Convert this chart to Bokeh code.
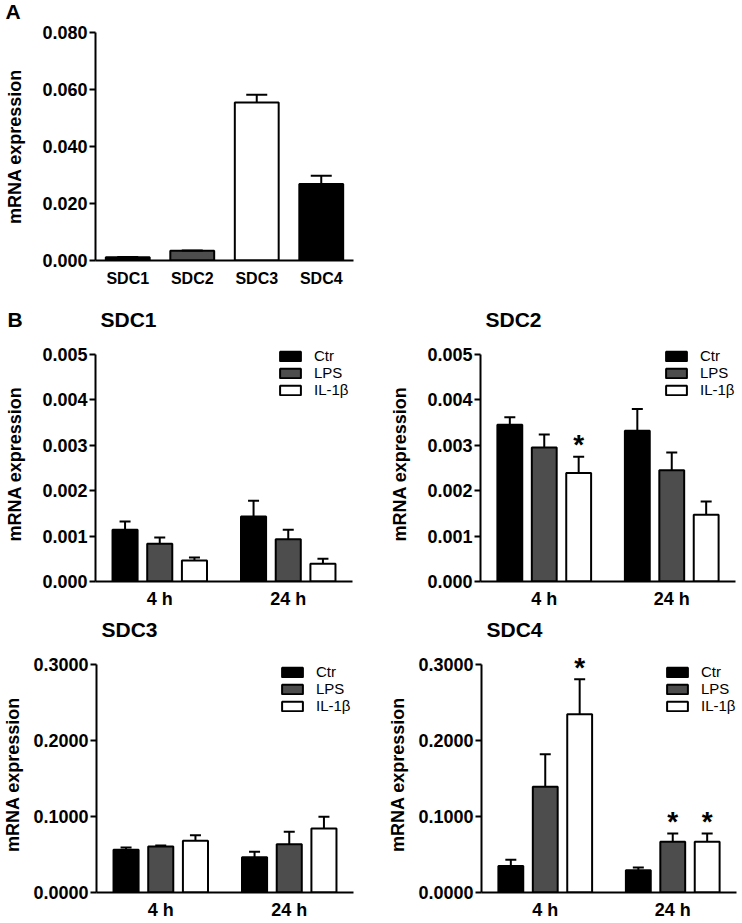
from bokeh.plotting import figure
from bokeh.layouts import column, row
from bokeh.models import (FactorRange, Range1d, FixedTicker, NumeralTickFormatter,
                          Whisker, TeeHead, Label, Legend, LegendItem, ColumnDataSource)
from bokeh.transform import dodge
from bokeh.embed import file_html
from bokeh.resources import INLINE
from bokeh.core.properties import value

FONT = "Liberation Sans"

# ---------------- Panel A data ----------------
genes = ["SDC1", "SDC2", "SDC3", "SDC4"]
gene_mean = [0.0011, 0.0034, 0.0554, 0.0268]
gene_sem = [0.0001, 0.0001, 0.0028, 0.0029]
gene_colors = ["#000000", "#4d4d4d", "#ffffff", "#000000"]
a_ticks = [0.0, 0.02, 0.04, 0.06, 0.08]

# ---------------- Panel B data ----------------
times = ["4 h", "24 h"]
treatments = ["Ctr", "LPS", "IL-1β"]
treat_colors = ["#000000", "#4d4d4d", "#ffffff"]

sdc1_ctr = [0.00114, 0.00143]
sdc1_ctr_sem = [0.00018, 0.00035]
sdc1_lps = [0.00083, 0.00093]
sdc1_lps_sem = [0.00014, 0.00021]
sdc1_il = [0.00046, 0.00039]
sdc1_il_sem = [0.00007, 0.00011]
sdc1_sig = [[0, 0], [0, 0], [0, 0]]

sdc2_ctr = [0.00345, 0.00332]
sdc2_ctr_sem = [0.00017, 0.00048]
sdc2_lps = [0.00295, 0.00245]
sdc2_lps_sem = [0.00029, 0.00039]
sdc2_il = [0.00239, 0.00147]
sdc2_il_sem = [0.00036, 0.00029]
sdc2_sig = [[0, 0], [0, 0], [1, 0]]

sdc3_ctr = [0.0561, 0.0465]
sdc3_ctr_sem = [0.0031, 0.0070]
sdc3_lps = [0.0605, 0.0636]
sdc3_lps_sem = [0.0013, 0.0164]
sdc3_il = [0.0680, 0.0842]
sdc3_il_sem = [0.0074, 0.0154]
sdc3_sig = [[0, 0], [0, 0], [0, 0]]

sdc4_ctr = [0.0350, 0.0294]
sdc4_ctr_sem = [0.0080, 0.0036]
sdc4_lps = [0.1390, 0.0667]
sdc4_lps_sem = [0.0430, 0.0109]
sdc4_il = [0.2346, 0.0667]
sdc4_il_sem = [0.0461, 0.0109]
sdc4_sig = [[0, 0], [0, 1], [1, 1]]

small_ticks = [0.0, 0.001, 0.002, 0.003, 0.004, 0.005]
big_ticks = [0.0, 0.1, 0.2, 0.3]

offsets = [-0.27, 0.0, 0.27]


def style_axes(p, ticks, fmt, xfont, xstandoff, label_standoff, ymax):
    p.outline_line_color = None
    p.xgrid.grid_line_color = None
    p.ygrid.grid_line_color = None
    p.background_fill_color = "white"
    p.border_fill_color = "white"
    for ax in (p.xaxis[0], p.yaxis[0]):
        ax.axis_line_width = 2
        ax.axis_line_color = "black"
        ax.major_label_text_font = FONT
        ax.major_label_text_font_style = "bold"
        ax.major_label_text_color = "black"
        ax.minor_tick_line_color = None
    p.xaxis.major_label_text_font_size = xfont
    p.yaxis.major_label_text_font_size = "18px"
    p.xaxis.major_tick_line_color = None
    p.xaxis.major_label_standoff = xstandoff
    p.yaxis.ticker = FixedTicker(ticks=ticks)
    p.yaxis.formatter = NumeralTickFormatter(format=fmt)
    p.yaxis.bounds = (0, ymax)
    p.yaxis.major_tick_out = 6
    p.yaxis.major_tick_in = 0
    p.yaxis.major_tick_line_width = 2
    p.yaxis.major_tick_line_color = "black"
    p.yaxis.major_label_standoff = 2
    p.yaxis.axis_label = "mRNA expression"
    p.yaxis.axis_label_text_font = FONT
    p.yaxis.axis_label_text_font_style = "bold"
    p.yaxis.axis_label_text_font_size = "18px"
    p.yaxis.axis_label_text_color = "black"
    p.yaxis.axis_label_standoff = label_standoff


def head_label(text, x, y):
    return Label(x=x, y=y, x_units="screen", y_units="screen", text=text,
                 text_font=FONT, text_font_style="bold", text_font_size="21px",
                 text_baseline="alphabetic", text_color="black")


# ---------------- Panel A ----------------
pA = figure(x_range=FactorRange(*genes), y_range=Range1d(0, 0.08),
            frame_width=258, frame_height=228,
            min_border_left=95, min_border_right=17,
            min_border_top=32, min_border_bottom=32,
            output_backend="svg", toolbar_location=None)
srcA = ColumnDataSource(dict(gene=genes, mean=gene_mean,
                             upper=[m + s for m, s in zip(gene_mean, gene_sem)],
                             color=gene_colors))
pA.vbar(x="gene", top="mean", width=0.68, source=srcA, fill_color="color",
        line_color="black", line_width=2)
pA.add_layout(Whisker(source=srcA, base="gene", lower="mean", upper="upper",
                      dimension="height", line_width=2, line_color="black",
                      upper_head=TeeHead(size=21, line_width=2, line_color="black"),
                      lower_head=None, level="glyph"))
style_axes(pA, a_ticks, "0.000", "16px", 3, 14, 0.08)
pA.add_layout(head_label("A", -90, 21), "above")


def panel_b(title, letter, means, sems, sig, ymax, ticks, fmt, label_standoff,
            border_left, border_right, frame_w, axis_h, headroom, border_top,
            border_bottom, legend_xy):
    frame_h = axis_h + headroom
    y_end = ymax * frame_h / axis_h
    p = figure(x_range=FactorRange(*times), y_range=Range1d(0, y_end),
               frame_width=frame_w, frame_height=frame_h,
               min_border_left=border_left, min_border_right=border_right,
               min_border_top=border_top, min_border_bottom=border_bottom,
               output_backend="svg", toolbar_location=None)
    items = []
    for i, t in enumerate(treatments):
        m = means[i]
        s = sems[i]
        up = [a + b for a, b in zip(m, s)]
        src = ColumnDataSource(dict(time=times, mean=m, upper=up))
        xd = dodge("time", offsets[i], range=p.x_range)
        r = p.vbar(x=xd, top="mean", width=0.195, source=src,
                   fill_color=treat_colors[i], line_color="black", line_width=2)
        p.add_layout(Whisker(source=src, base=dodge("time", offsets[i], range=p.x_range),
                             lower="mean", upper="upper", dimension="height",
                             line_width=2, line_color="black",
                             upper_head=TeeHead(size=11, line_width=2, line_color="black"),
                             lower_head=None, level="glyph"))
        items.append(LegendItem(label=t, renderers=[r]))
        st_t = [times[k] for k in range(len(times)) if sig[i][k]]
        st_y = [up[k] for k in range(len(times)) if sig[i][k]]
        if st_t:
            ssrc = ColumnDataSource(dict(time=st_t, y=st_y, s=["*"] * len(st_t)))
            p.text(x=dodge("time", offsets[i], range=p.x_range), y="y", text="s",
                   source=ssrc, text_align="center", text_baseline="alphabetic",
                   y_offset=-12, text_font=value(FONT), text_font_style="bold",
                   text_font_size="28px", text_color="black")
    style_axes(p, ticks, fmt, "18px", 1, label_standoff, ymax)
    leg = Legend(items=items, location=legend_xy, orientation="vertical",
                 label_text_font=FONT, label_text_font_size="15px",
                 label_text_color="black",
                 label_standoff=11, glyph_width=26, glyph_height=12,
                 label_height=12, spacing=0, padding=0, margin=0,
                 border_line_color=None, background_fill_alpha=0)
    p.add_layout(leg, "center")
    p.add_layout(head_label(title, 5, 27), "above")
    if letter:
        p.add_layout(head_label(letter, -88, 4), "above")
    return p


p1 = panel_b("SDC1", "B", [sdc1_ctr, sdc1_lps, sdc1_il],
             [sdc1_ctr_sem, sdc1_lps_sem, sdc1_il_sem], sdc1_sig,
             0.005, small_ticks, "0.000", 14, 95, 18, 257, 227, 8, 54, 30, (182, 183))
p2 = panel_b("SDC2", None, [sdc2_ctr, sdc2_lps, sdc2_il],
             [sdc2_ctr_sem, sdc2_lps_sem, sdc2_il_sem], sdc2_sig,
             0.005, small_ticks, "0.000", 14, 110, 7, 255, 227, 8, 54, 30, (183, 183))
p3 = panel_b("SDC3", None, [sdc3_ctr, sdc3_lps, sdc3_il],
             [sdc3_ctr_sem, sdc3_lps_sem, sdc3_il_sem], sdc3_sig,
             0.3, big_ticks, "0.0000", 7, 95, 18, 257, 228, 8, 45, 28, (183, 178))
p4 = panel_b("SDC4", None, [sdc4_ctr, sdc4_lps, sdc4_il],
             [sdc4_ctr_sem, sdc4_lps_sem, sdc4_il_sem], sdc4_sig,
             0.3, big_ticks, "0.0000", 7, 110, 7, 255, 228, 8, 45, 28, (183, 178))

layout = column(pA, row(p1, p2), row(p3, p4))
open("out.html", "w").write(file_html(layout, INLINE))
